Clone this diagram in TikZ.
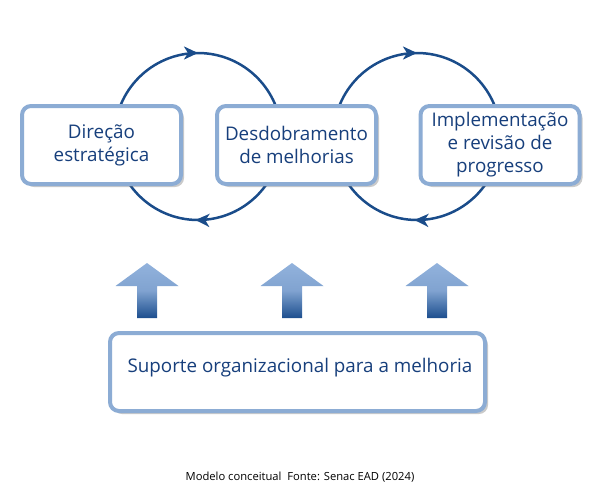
\documentclass[tikz,border=0pt]{standalone}
\usepackage{fontspec}
\setmainfont{Open Sans}
\usetikzlibrary{arrows.meta,shadows,decorations.markings,calc}
\definecolor{navy}{HTML}{1A4C8A}
\definecolor{txtblue}{HTML}{173F7C}
\definecolor{boxline}{HTML}{8CACD4}
\definecolor{arrlight}{HTML}{92B2DC}
\definecolor{arrdark}{HTML}{1C4E8E}
\tikzset{
  stagebox/.style={draw=boxline, line width=4pt, fill=white, rounded corners=9pt,
    minimum width=159pt, minimum height=78pt, align=center, text=txtblue,
    font=\fontsize{18.8}{23}\selectfont, inner sep=2pt,
    drop shadow={shadow xshift=3pt, shadow yshift=-3pt, opacity=0.35, fill=black!60}},
  cyclepath/.style={draw=navy, line width=2.5pt,
    decoration={markings,
      mark=at position 0.25 with {\arrow{Stealth[length=14pt,width=13pt,inset=4pt]}},
      mark=at position 0.755 with {\arrow{Stealth[length=14pt,width=13pt,inset=4pt]}}},
    postaction=decorate},
  uparrow/.style={top color=arrlight, bottom color=arrdark, middle color=arrlight!85!arrdark},
}
\begin{document}
\begin{tikzpicture}[x=1pt,y=-1pt]
\useasboundingbox (0,0) rectangle (601,498);
% cycle centres
\coordinate (c1) at (198,136.5);
\coordinate (c2) at (417,136.5);
\draw[cyclepath] ($(c1)+(-83.5,0)$) arc[start angle=180, end angle=540, radius=83.5];
\draw[cyclepath] ($(c2)+(-83.5,0)$) arc[start angle=180, end angle=540, radius=83.5];
% stage boxes
\node[stagebox] (b1) at (101.5,145) {Direção\\estratégica};
\node[stagebox] (b2) at (296.5,145) {Desdobramento\\de melhorias};
\node[stagebox] (b3) at (500,145) {Implementação\\e revisão de\\progresso};
% base box
\node[stagebox, minimum width=375pt, minimum height=78pt] (base) at (297.5,372) {};
\node[text=txtblue, font=\fontsize{18.8}{22}\selectfont] (basetxt) at (300,368) {Suporte organizacional para a melhoria};
% up arrows
\foreach \n/\cx in {a1/147,a2/292,a3/437}{
  \coordinate (\n) at (\cx,318);
  \shade[uparrow] ($(\n)+(-10,0)$) -- ($(\n)+(-10,-32)$) -- ($(\n)+(-31.5,-32)$) -- ($(\n)+(0,-55)$)
    -- ($(\n)+(31.5,-32)$) -- ($(\n)+(10,-32)$) -- ($(\n)+(10,0)$) -- cycle;
}
% caption
\node[font=\fontsize{11.2}{13}\selectfont, text=black] (cap) at (300,477) {Modelo conceitual\ \ Fonte: Senac EAD (2024)};
\end{tikzpicture}
\end{document}
